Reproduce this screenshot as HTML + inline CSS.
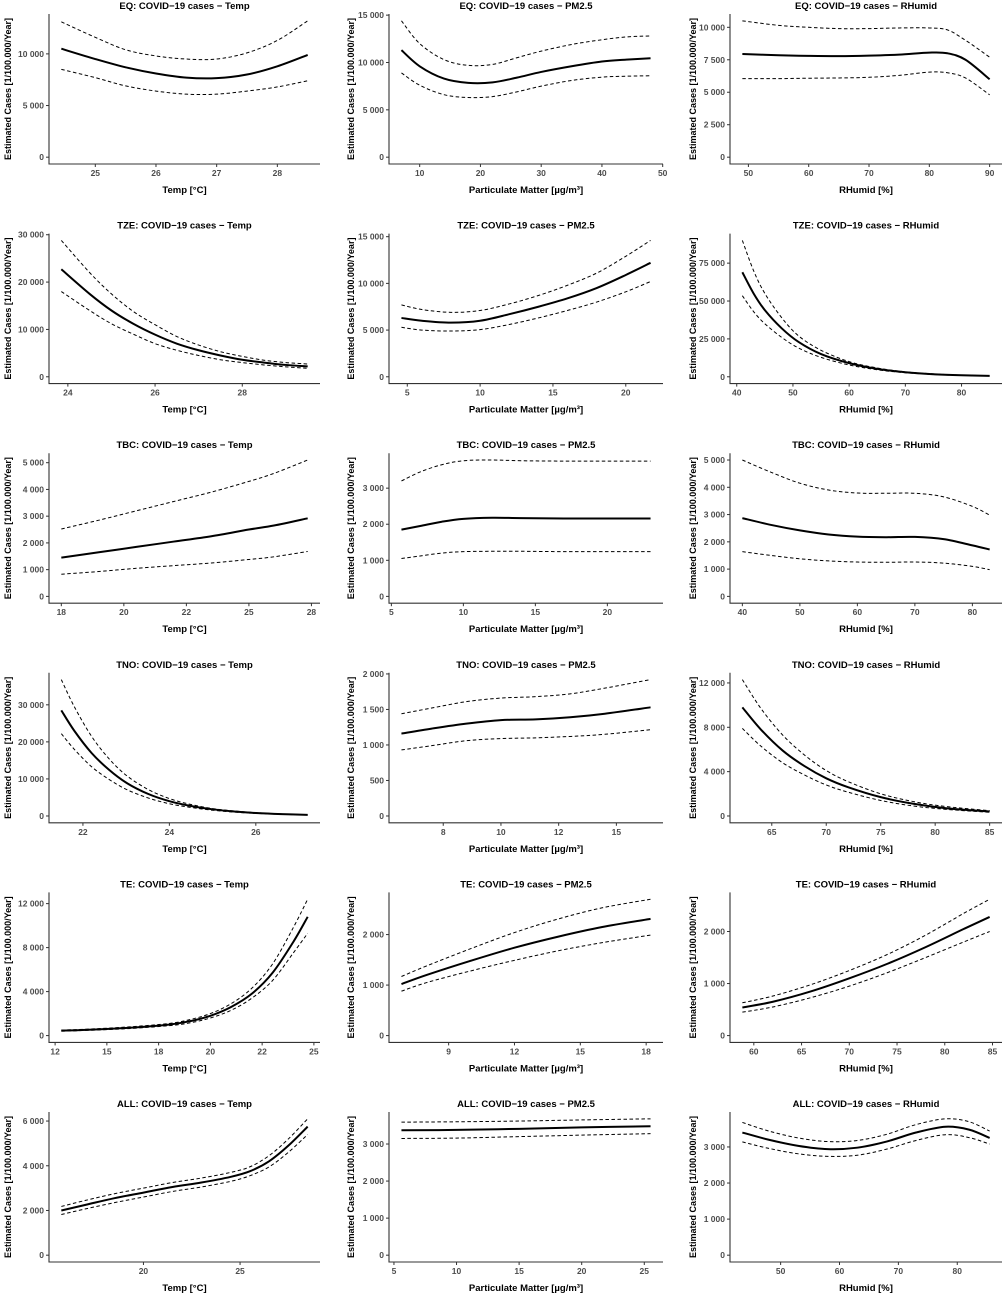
<!DOCTYPE html>
<html><head><meta charset="utf-8">
<style>
html,body{margin:0;padding:0;background:#fff;}
svg{display:block;font-family:"Liberation Sans",Arial,sans-serif;}
</style></head>
<body>
<svg id="fig" width="1005" height="1294" viewBox="0 0 1005 1294" xmlns="http://www.w3.org/2000/svg"></svg>
<script>
// ---- data ----
const eqTempX=[24.44,25,25.5,26,26.5,27,27.5,28,28.5];
const eqTempFit=[10500,9500,8700,8100,7700,7650,8000,8800,9900];
const eqTempHi=[13100,11600,10400,9800,9500,9500,10100,11300,13200];
const eqTempLo=[8500,7700,6900,6400,6100,6100,6400,6800,7400];
const eqTempXTicks=[25,26,27,28];
const eqTempYTicks=[0,5000,10000];

const eqPmX=[7,10,14,18,22,26,30,35,40,44,48];
const eqPmFit=[11300,9600,8300,7850,7900,8400,9000,9600,10100,10300,10450];
const eqPmHi=[14400,12000,10300,9700,9800,10500,11200,11900,12400,12700,12800];
const eqPmLo=[8900,7600,6600,6300,6400,6900,7500,8100,8450,8550,8600];
const eqPmXTicks=[10,20,30,40,50];
const eqPmYTicks=[0,5000,10000,15000];

const eqRhX=[49,55,60,65,70,75,80,83,86,90];
const eqRhFit=[7950,7850,7800,7780,7820,7900,8050,8000,7500,6000];
const eqRhHi=[10500,10150,10000,9900,9900,9950,9950,9800,9000,7700];
const eqRhLo=[6050,6050,6080,6100,6150,6300,6550,6500,6100,4800];
const eqRhXTicks=[50,60,70,80,90];
const eqRhYTicks=[0,2500,5000,7500,10000];

const tzeTempX=[23.85,24.5,25,25.5,26,26.5,27,27.5,28,28.5,29,29.5];
const tzeTempFit=[22700,17500,14000,11200,8900,7000,5600,4500,3600,3000,2500,2200];
const tzeTempHi=[28800,22000,17500,13800,11000,8500,6700,5300,4300,3500,3000,2700];
const tzeTempLo=[18000,14000,11200,9000,7000,5600,4500,3600,3000,2500,2100,1800];
const tzeTempXTicks=[24,26,28];
const tzeTempYTicks=[0,10000,20000,30000];

const tzePmX=[4.6,6,8,10,12,14,16,18,20,21.7];
const tzePmFit=[6300,6000,5800,6000,6700,7500,8400,9500,10900,12200];
const tzePmHi=[7700,7200,6900,7100,7800,8700,9800,11100,12900,14600];
const tzePmLo=[5300,5000,4900,5050,5600,6300,7100,8000,9100,10200];
const tzePmXTicks=[5,10,15,20];
const tzePmYTicks=[0,5000,10000,15000];

const tzeRhX=[41,43,45,48,51,55,60,65,70,75,80,85];
const tzeRhFit=[69000,55000,44000,32000,23000,15000,9000,5200,3000,1700,1000,600];
const tzeRhHi=[90000,70000,55000,39000,27000,17500,10000,5800,3300,1900,1100,700];
const tzeRhLo=[53500,43000,35000,26000,19000,12800,7800,4600,2700,1500,900,500];
const tzeRhXTicks=[40,50,60,70,80];
const tzeRhYTicks=[0,25000,50000,75000];

const tbcTempX=[17.5,19,20.5,22,23.5,25,26,27.35];
const tbcTempFit=[1450,1650,1850,2050,2250,2500,2650,2920];
const tbcTempHi=[2520,2850,3200,3550,3900,4300,4600,5100];
const tbcTempLo=[830,930,1050,1150,1250,1380,1480,1680];
const tbcTempXTicks=[17.5,20,22.5,25,27.5];
const tbcTempXLabels=["18","20","22","25","28"];
const tbcTempYTicks=[0,1000,2000,3000,4000,5000];

const tbcPmX=[5.7,7,8.5,10,12,14,17,20,23];
const tbcPmFit=[1850,1950,2070,2150,2180,2170,2160,2160,2160];
const tbcPmHi=[3200,3450,3650,3760,3780,3760,3750,3750,3750];
const tbcPmLo=[1050,1120,1200,1240,1250,1250,1240,1240,1240];
const tbcPmXTicks=[5,10,15,20];
const tbcPmYTicks=[0,1000,2000,3000];

const tbcRhX=[40,45,50,55,60,65,70,75,80,83];
const tbcRhFit=[2870,2620,2420,2270,2190,2170,2180,2100,1870,1720];
const tbcRhHi=[5000,4550,4150,3900,3790,3780,3780,3650,3300,2980];
const tbcRhLo=[1640,1500,1380,1300,1260,1250,1260,1220,1100,980];
const tbcRhXTicks=[40,50,60,70,80];
const tbcRhYTicks=[0,1000,2000,3000,4000,5000];

const tnoTempX=[21.5,21.8,22.2,22.6,23,23.5,24,24.5,25,25.5,26,26.6,27.2];
const tnoTempFit=[28500,23000,17000,12500,9000,6000,4000,2700,1800,1200,800,500,300];
const tnoTempHi=[36800,29500,21500,15500,11000,7200,4700,3100,2000,1350,900,550,350];
const tnoTempLo=[22200,18000,13300,9900,7200,4900,3300,2300,1550,1050,700,450,250];
const tnoTempXTicks=[22,24,26];
const tnoTempYTicks=[0,10000,20000,30000];

const tnoPmX=[5.69,7,8.5,10,11.5,13,14.5,16.48];
const tnoPmFit=[1160,1230,1300,1350,1360,1390,1440,1530];
const tnoPmHi=[1440,1520,1610,1660,1680,1720,1800,1920];
const tnoPmLo=[930,990,1060,1090,1100,1120,1150,1215];
const tnoPmXTicks=[7.5,10,12.5,15];
const tnoPmXLabels=["8","10","12","15"];
const tnoPmYTicks=[0,500,1000,1500,2000];

const tnoRhX=[62.3,64,66,68,70,72,75,78,81,85];
const tnoRhFit=[9800,7800,5900,4500,3400,2600,1700,1100,700,400];
const tnoRhHi=[12300,9700,7300,5500,4100,3100,2000,1300,850,480];
const tnoRhLo=[7900,6300,4800,3700,2800,2150,1400,900,600,330];
const tnoRhXTicks=[65,70,75,80,85];
const tnoRhYTicks=[0,4000,8000,12000];

const teTempX=[12.8,14,16,18,19,20,21,22,23,24,24.7];
const teTempFit=[450,520,700,1000,1300,1800,2600,3800,5700,8500,10800];
const teTempHi=[500,580,780,1100,1450,2000,2900,4300,6500,9800,12400];
const teTempLo=[400,470,630,900,1150,1600,2300,3400,5000,7500,9300];
const teTempXTicks=[12.5,15,17.5,20,22.5,25];
const teTempXLabels=["12","15","18","20","22","25"];
const teTempYTicks=[0,4000,8000,12000];

const tePmX=[6.85,8,10,12,14,16,18.2];
const tePmFit=[1020,1200,1480,1740,1960,2150,2310];
const tePmHi=[1170,1380,1720,2040,2310,2530,2700];
const tePmLo=[880,1050,1280,1490,1680,1840,1990];
const tePmXTicks=[9,12,15,18];
const tePmYTicks=[0,1000,2000];

const teRhX=[58.8,62,66,70,74,78,82,84.7];
const teRhFit=[540,650,850,1100,1380,1700,2050,2280];
const teRhHi=[630,760,980,1250,1560,1930,2350,2620];
const teRhLo=[450,550,730,950,1210,1500,1800,2000];
const teRhXTicks=[60,65,70,75,80,85];
const teRhYTicks=[0,1000,2000];

const allTempX=[15.75,17,18.5,20,21.5,23,24.5,25.5,26.5,27.5,28.5];
const allTempFit=[2000,2250,2550,2800,3050,3250,3500,3750,4200,4900,5750];
const allTempHi=[2180,2450,2750,3000,3250,3450,3700,3950,4450,5200,6100];
const allTempLo=[1820,2070,2350,2600,2850,3050,3300,3550,3950,4600,5400];
const allTempXTicks=[20,25];
const allTempYTicks=[0,2000,4000,6000];

const allPmX=[5.6,10,15,20,25.5];
const allPmFit=[3370,3380,3410,3450,3480];
const allPmHi=[3590,3600,3620,3650,3680];
const allPmLo=[3150,3160,3200,3240,3280];
const allPmXTicks=[5,10,15,20,25];
const allPmYTicks=[0,1000,2000,3000];

const allRhX=[43.5,48,53,58,63,68,73,78,82,85.5];
const allRhFit=[3400,3200,3030,2940,2980,3150,3400,3560,3480,3250];
const allRhHi=[3680,3440,3250,3150,3180,3350,3620,3780,3700,3440];
const allRhLo=[3140,2960,2810,2740,2770,2940,3180,3340,3260,3080];
const allRhXTicks=[50,60,70,80];
const allRhYTicks=[0,1000,2000,3000];

const regionNames=["EQ","TZE","TBC","TNO","TE","ALL"];
const varNames=["Temp","PM2.5","RHumid"];
const xTitles=["Temp [°C]","Particulate Matter [µg/m³]","RHumid [%]"];

const panels=[
 [eqTempX,eqTempFit,eqTempHi,eqTempLo,eqTempXTicks,null,eqTempYTicks],
 [eqPmX,eqPmFit,eqPmHi,eqPmLo,eqPmXTicks,null,eqPmYTicks],
 [eqRhX,eqRhFit,eqRhHi,eqRhLo,eqRhXTicks,null,eqRhYTicks],
 [tzeTempX,tzeTempFit,tzeTempHi,tzeTempLo,tzeTempXTicks,null,tzeTempYTicks],
 [tzePmX,tzePmFit,tzePmHi,tzePmLo,tzePmXTicks,null,tzePmYTicks],
 [tzeRhX,tzeRhFit,tzeRhHi,tzeRhLo,tzeRhXTicks,null,tzeRhYTicks],
 [tbcTempX,tbcTempFit,tbcTempHi,tbcTempLo,tbcTempXTicks,tbcTempXLabels,tbcTempYTicks],
 [tbcPmX,tbcPmFit,tbcPmHi,tbcPmLo,tbcPmXTicks,null,tbcPmYTicks],
 [tbcRhX,tbcRhFit,tbcRhHi,tbcRhLo,tbcRhXTicks,null,tbcRhYTicks],
 [tnoTempX,tnoTempFit,tnoTempHi,tnoTempLo,tnoTempXTicks,null,tnoTempYTicks],
 [tnoPmX,tnoPmFit,tnoPmHi,tnoPmLo,tnoPmXTicks,tnoPmXLabels,tnoPmYTicks],
 [tnoRhX,tnoRhFit,tnoRhHi,tnoRhLo,tnoRhXTicks,null,tnoRhYTicks],
 [teTempX,teTempFit,teTempHi,teTempLo,teTempXTicks,teTempXLabels,teTempYTicks],
 [tePmX,tePmFit,tePmHi,tePmLo,tePmXTicks,null,tePmYTicks],
 [teRhX,teRhFit,teRhHi,teRhLo,teRhXTicks,null,teRhYTicks],
 [allTempX,allTempFit,allTempHi,allTempLo,allTempXTicks,null,allTempYTicks],
 [allPmX,allPmFit,allPmHi,allPmLo,allPmXTicks,null,allPmYTicks],
 [allRhX,allRhFit,allRhHi,allRhLo,allRhXTicks,null,allRhYTicks]
];

// ---- layout ----
const NS="http://www.w3.org/2000/svg";
const svg=document.getElementById('fig');
const colAxis=[49,389,730], colRight=[320,663,1002], colYTitle=[8,351,693];
function mk(tag,attrs,parent){const e=document.createElementNS(NS,tag);for(const k in attrs)e.setAttribute(k,attrs[k]);(parent||svg).appendChild(e);return e;}
function fmt(v){const s=String(Math.round(v));return s.length>=4?s.slice(0,s.length-3)+" "+s.slice(-3):s;}
function smoothPath(pts){
  let d="M"+pts[0][0].toFixed(2)+","+pts[0][1].toFixed(2);
  for(let i=0;i<pts.length-1;i++){
    const p0=pts[Math.max(0,i-1)],p1=pts[i],p2=pts[i+1],p3=pts[Math.min(pts.length-1,i+2)];
    const c1x=p1[0]+(p2[0]-p0[0])/6,c1y=p1[1]+(p2[1]-p0[1])/6;
    const c2x=p2[0]-(p3[0]-p1[0])/6,c2y=p2[1]-(p3[1]-p1[1])/6;
    d+=" C"+c1x.toFixed(2)+","+c1y.toFixed(2)+" "+c2x.toFixed(2)+","+c2y.toFixed(2)+" "+p2[0].toFixed(2)+","+p2[1].toFixed(2);
  }
  return d;
}

panels.forEach((p,idx)=>{
  const [xs,fit,hi,lo,xt,xl,yt]=p;
  const r=Math.floor(idx/3), c=idx%3;
  const left=colAxis[c], right=colRight[c];
  const top=14+219.6*r, bottom=164+219.6*r;
  const g=mk('g',{});
  
  
  const xmin=Math.min(...xs), xmax=Math.max(...xs);
  const xpad=(xmax-xmin)*0.05;
  const ymin=Math.min(0,...lo), ymax=Math.max(...hi);
  const ypad=(ymax-ymin)*0.05;
  const X=v=>left+(v-(xmin-xpad))/((xmax+xpad)-(xmin-xpad))*(right-left);
  const Y=v=>bottom-(v-(ymin-ypad))/((ymax+ypad)-(ymin-ypad))*(bottom-top);
  const t=mk('text',{x:(left+right)/2,y:top-5,'text-anchor':'middle','font-size':'9.5','font-weight':'bold',fill:'#000'},g);
  t.textContent=regionNames[r]+": COVID\u221219 cases \u2212 "+varNames[c];
  
  
  const ax=mk('path',{d:`M${left},${top} L${left},${bottom} L${right},${bottom}`,fill:'none',stroke:'#333','stroke-width':'1.1'},g);
  
  
  yt.forEach(v=>{
    const y=Y(v);
    mk('line',{x1:left-3,x2:left,y1:y,y2:y,stroke:'#333','stroke-width':'1'},g);
    const tl=mk('text',{x:left-5,y:y+3,'text-anchor':'end','font-size':'8.5','font-weight':'bold',fill:'#4d4d4d'},g);
    tl.textContent=fmt(v);
    
    
  });
  xt.forEach((v,i)=>{
    const x=X(v);
    mk('line',{x1:x,x2:x,y1:bottom,y2:bottom+3,stroke:'#333','stroke-width':'1'},g);
    const tl=mk('text',{x:x,y:bottom+12,'text-anchor':'middle','font-size':'8.5','font-weight':'bold',fill:'#4d4d4d'},g);
    tl.textContent=xl?xl[i]:String(v);
    
    
  });
  const xtl=mk('text',{x:(left+right)/2,y:bottom+29,'text-anchor':'middle','font-size':'9.5','font-weight':'bold',fill:'#000'},g);
  xtl.textContent=xTitles[c];
  
  
  const cy=(top+bottom)/2, cx=colYTitle[c];
  const ytl=mk('text',{x:cx,y:cy,'text-anchor':'middle','dominant-baseline':'central','font-size':'9','font-weight':'bold',fill:'#000',transform:`rotate(-90 ${cx} ${cy})`},g);
  ytl.textContent="Estimated Cases [1/100.000/Year]";
  
  
  const up=mk('path',{d:smoothPath(xs.map((x,i)=>[X(x),Y(hi[i])])),fill:'none',stroke:'#000','stroke-width':'1','stroke-dasharray':'3.5,2.5'},g);
  
  
  const lw=mk('path',{d:smoothPath(xs.map((x,i)=>[X(x),Y(lo[i])])),fill:'none',stroke:'#000','stroke-width':'1','stroke-dasharray':'3.5,2.5'},g);
  
  
  const ft=mk('path',{d:smoothPath(xs.map((x,i)=>[X(x),Y(fit[i])])),fill:'none',stroke:'#000','stroke-width':'2'},g);
  
  
});
</script>
</body></html>
